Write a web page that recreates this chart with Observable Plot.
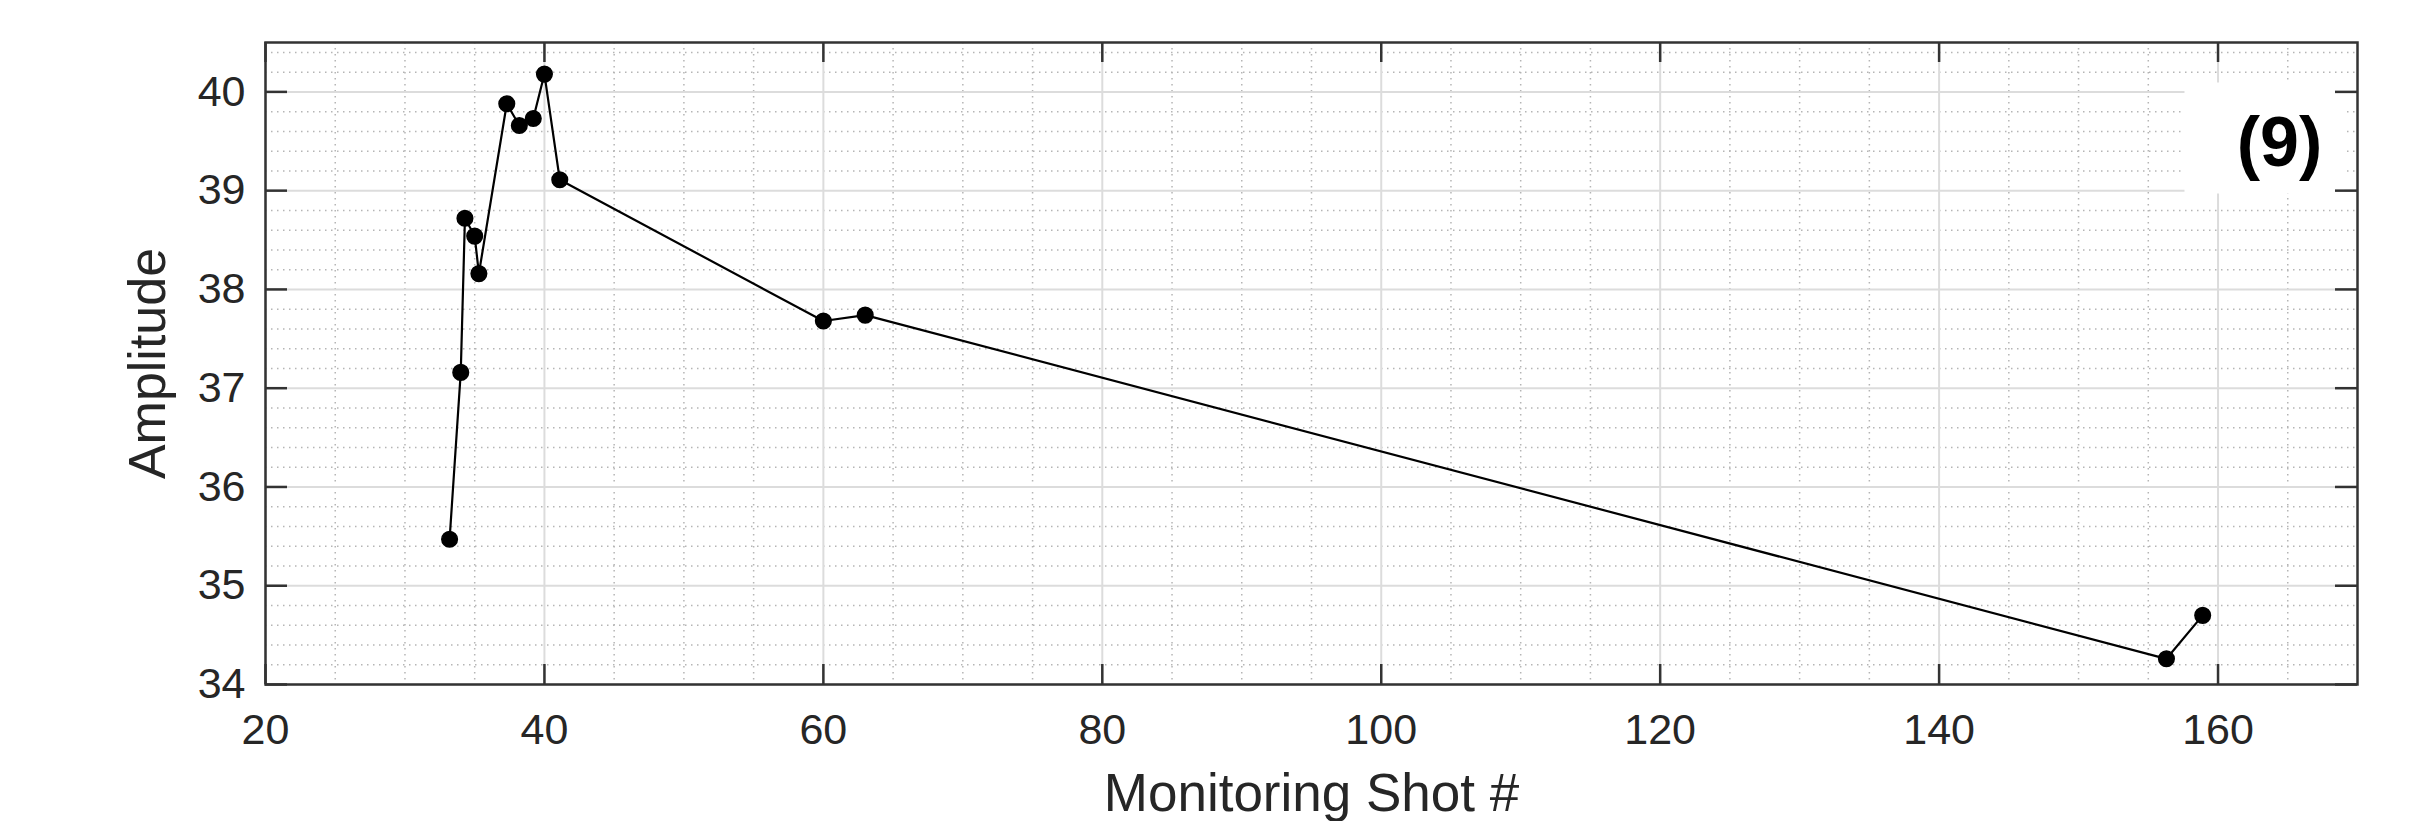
<!DOCTYPE html>
<html>
<head>
<meta charset="utf-8">
<script src="https://cdn.jsdelivr.net/npm/d3@7"></script>
<script src="https://cdn.jsdelivr.net/npm/@observablehq/plot@0.6"></script>
<style>
  html, body { margin: 0; padding: 0; background: #fff; }
  svg { display: block; }
</style>
</head>
<body>
<div id="chart"></div>
<script>
// ---- data ----
const shots      = [33.2, 34.0, 34.3, 35.0, 35.3, 37.3, 38.2, 39.2, 40.0, 41.1, 60.0, 63.0, 156.3, 158.9];
const amplitudes = [35.47, 37.16, 38.72, 38.54, 38.16, 39.88, 39.66, 39.73, 40.18, 39.11, 37.68, 37.74, 34.26, 34.70];

const xTicks = [20, 40, 60, 80, 100, 120, 140, 160];
const yTicks = [34, 35, 36, 37, 38, 39, 40];
const xMinor = [25, 30, 35, 45, 50, 55, 65, 70, 75, 85, 90, 95, 105, 110, 115, 125, 130, 135, 145, 150, 155, 165];
const yMinor = [34.2, 34.4, 34.6, 34.8, 35.2, 35.4, 35.6, 35.8, 36.2, 36.4, 36.6, 36.8, 37.2, 37.4, 37.6, 37.8,
                38.2, 38.4, 38.6, 38.8, 39.2, 39.4, 39.6, 39.8, 40.2, 40.4];
const xDomain = [20, 170];
const yDomain = [34, 40.5];

const xLabel = "Monitoring Shot #";
const yLabel = "Amplitude";
const panelLabel = ["(9)"];

const points = shots.map((s, i) => ({shot: s, amp: amplitudes[i]}));

// ---- layout ----
const W = 2411, H = 821;
const mL = 265, mR = 54, mT = 42, mB = 137;
const fw = W - mL - mR, fh = H - mT - mB;
const ink = "#262626";
const tickLen = 20;

const chart = Plot.plot({
  width: W,
  height: H,
  marginLeft: mL,
  marginRight: mR,
  marginTop: mT,
  marginBottom: mB,
  style: {fontFamily: "'Liberation Sans', Arial, Helvetica, sans-serif", background: "#fff", color: ink},
  x: {domain: xDomain},
  y: {domain: yDomain},
  marks: [
    // minor grid (dotted)
    Plot.gridX(xMinor, {stroke: "#b5b5b5", strokeOpacity: 1, strokeWidth: 1.5, strokeDasharray: "1.5,4.5"}),
    Plot.gridY(yMinor, {stroke: "#b5b5b5", strokeOpacity: 1, strokeWidth: 1.5, strokeDasharray: "1.5,4.5"}),
    // major grid
    Plot.gridX(xTicks, {stroke: "#dcdcdc", strokeOpacity: 1, strokeWidth: 2}),
    Plot.gridY(yTicks, {stroke: "#dcdcdc", strokeOpacity: 1, strokeWidth: 2}),
    // white box behind panel label
    Plot.frame({fill: "white", stroke: null, insetLeft: 1919, insetRight: 13, insetTop: 40, insetBottom: 491}),
    // data
    Plot.line(points, {x: "shot", y: "amp", stroke: "black", strokeWidth: 2.2}),
    Plot.dot(points, {x: "shot", y: "amp", r: 7.8, fill: "black", stroke: "black"}),
    // panel label
    Plot.text(panelLabel, {frameAnchor: "top-right", dx: -78, dy: 101, textAnchor: "middle", lineAnchor: "middle",
      fontSize: 70, fontWeight: "bold", fill: "black"}),
    // box
    Plot.frame({stroke: "#333", strokeWidth: 2.5}),
    // inward ticks on all sides
    Plot.ruleX(xTicks, {stroke: "#333", strokeWidth: 2.5, insetTop: fh - tickLen}),
    Plot.ruleX(xTicks, {stroke: "#333", strokeWidth: 2.5, insetBottom: fh - tickLen}),
    Plot.ruleY(yTicks, {stroke: "#333", strokeWidth: 2.5, insetRight: fw - 22}),
    Plot.ruleY(yTicks, {stroke: "#333", strokeWidth: 2.5, insetLeft: fw - 22}),
    // tick labels
    Plot.axisX(xTicks, {anchor: "bottom", tickSize: 0, tickPadding: 29, fontSize: 43, label: null, fill: ink,
      tickFormat: d => String(d)}),
    Plot.axisY(yTicks, {anchor: "left", tickSize: 0, tickPadding: 20, fontSize: 43, label: null, fill: ink,
      tickFormat: d => String(d)}),
    // axis titles
    Plot.text([xLabel], {frameAnchor: "bottom", dy: 89, lineAnchor: "top", textAnchor: "middle", fontSize: 53, fill: ink}),
    Plot.text([yLabel], {frameAnchor: "left", dx: -137, rotate: -90, lineAnchor: "top", textAnchor: "middle", fontSize: 52, fill: ink})
  ]
});
document.getElementById("chart").appendChild(chart);
</script>
</body>
</html>
